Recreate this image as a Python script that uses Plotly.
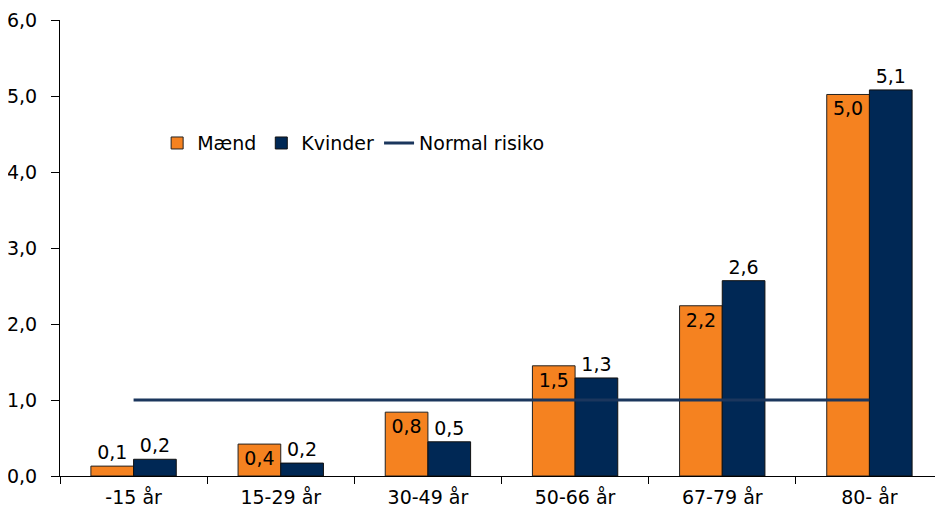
import plotly.graph_objects as go

categories = ["-15 år", "15-29 år", "30-49 år", "50-66 år", "67-79 år", "80- år"]
maend = [0.13, 0.42, 0.84, 1.45, 2.24, 5.02]
maend_labels = ["0,1", "0,4", "0,8", "1,5", "2,2", "5,0"]
kvinder = [0.22, 0.17, 0.45, 1.29, 2.57, 5.08]
kvinder_labels = ["0,2", "0,2", "0,5", "1,3", "2,6", "5,1"]
normal = [1.0, 1.0, 1.0, 1.0, 1.0, 1.0]

FONT = "DejaVu Sans"
FS = 19
orange = "#F58220"
navy = "#002855"
linecol = "#1B365D"

fig = go.Figure()
fig.add_trace(go.Bar(
    name="Mænd", x=categories, y=maend, text=maend_labels,
    textposition=["outside", "inside", "inside", "inside", "inside", "inside"],
    insidetextanchor="end", constraintext="none",
    textfont=dict(family=FONT, size=FS, color="black"),
    marker=dict(color=orange, line=dict(color="#222222", width=1)),
    cliponaxis=False,
))
fig.add_trace(go.Bar(
    name="Kvinder", x=categories, y=kvinder, text=kvinder_labels,
    textposition="outside", constraintext="none",
    textfont=dict(family=FONT, size=FS, color="black"),
    marker=dict(color=navy, line=dict(color="#111111", width=1)),
    cliponaxis=False,
))
fig.add_trace(go.Scatter(
    name="Normal risiko", x=categories, y=normal, mode="lines",
    line=dict(color=linecol, width=3),
))

fig.update_layout(
    width=935, height=511,
    margin=dict(l=52, r=0, t=12, b=43),
    paper_bgcolor="white", plot_bgcolor="white",
    font=dict(family=FONT, size=FS, color="black"),
    barmode="group", bargap=0.42, bargroupgap=0,
    separators=", ",
    showlegend=True,
    legend=dict(orientation="h", x=0.11, y=0.73, xanchor="left", yanchor="middle",
                font=dict(family=FONT, size=FS), bgcolor="rgba(0,0,0,0)",
                itemwidth=30, tracegroupgap=0),
)
fig.update_xaxes(
    showline=True, linecolor="black", linewidth=1,
    ticks="outside", tickson="boundaries", ticklen=7, tickcolor="black",
    ticklabelstandoff=4,
    showgrid=False, tickfont=dict(family=FONT, size=FS),
)
fig.update_yaxes(
    range=[0, 6], dtick=1, tickformat=".1f",
    showline=True, linecolor="black", linewidth=1,
    ticks="outside", ticklen=8, tickcolor="black",
    ticklabelstandoff=10,
    showgrid=False, zeroline=False, tickfont=dict(family=FONT, size=FS),
)

fig.write_html("out.html")
